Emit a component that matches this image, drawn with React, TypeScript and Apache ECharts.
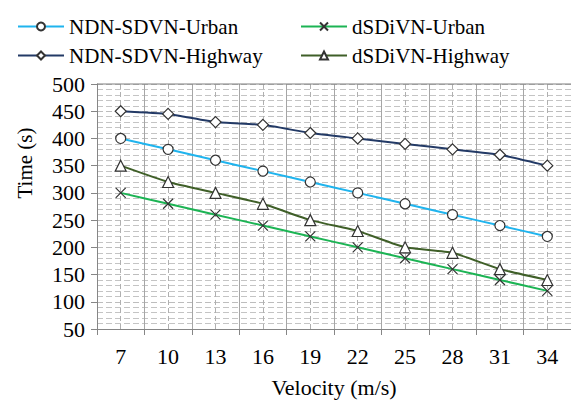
import React, { useEffect, useRef } from "react";
import * as echarts from "echarts";

const velocities = ["7", "10", "13", "16", "19", "22", "25", "28", "31", "34"];
const ndnUrban = [400, 380, 360, 340, 320, 300, 280, 260, 240, 220];
const dsdiUrban = [300, 280, 260, 240, 220, 200, 180, 160, 140, 120];
const ndnHighway = [450, 445, 430, 425, 410, 400, 390, 380, 370, 350];
const dsdiHighway = [350, 320, 300, 280, 250, 230, 200, 190, 160, 140];

const FONT = "Liberation Serif";
const CROSS = "path://M0,0L10,10M0,10L10,0";

function makeSeries(name: string, data: number[], color: string, symbol: string, size: number) {
  return {
    name,
    type: "line",
    data,
    xAxisIndex: 0,
    yAxisIndex: 0,
    smooth: 0.15,
    color,
    symbol,
    symbolSize: size,
    lineStyle: { color, width: 2 },
    itemStyle: {
      color: symbol === CROSS ? "transparent" : "#ffffff",
      borderColor: "#333333",
      borderWidth: 1.2,
    },
    emphasis: { disabled: true },
  };
}

export default function App() {
  const ref = useRef<HTMLDivElement>(null);

  useEffect(() => {
    if (!ref.current) return;
    const chart = echarts.init(ref.current, null, { renderer: "svg" });
    const legendText = { fontFamily: FONT, fontSize: 21, color: "#000" };
    chart.setOption({
      animation: false,
      backgroundColor: "#ffffff",
      grid: { left: 97, right: -3, top: 84, bottom: 75, containLabel: false },
      legend: [
        {
          orient: "vertical",
          left: 12,
          top: 11,
          itemGap: 8,
          itemWidth: 46,
          itemHeight: 10,
          textStyle: legendText,
          data: ["NDN-SDVN-Urban", "NDN-SDVN-Highway"],
        },
        {
          orient: "vertical",
          left: 295,
          top: 11,
          itemGap: 8,
          itemWidth: 46,
          itemHeight: 10,
          textStyle: legendText,
          data: ["dSDiVN-Urban", "dSDiVN-Highway"],
        },
      ],
      xAxis: [
        {
          type: "category",
          data: velocities,
          boundaryGap: true,
          axisLine: { lineStyle: { color: "#868686", width: 1 } },
          axisTick: { show: true, length: 6, lineStyle: { color: "#868686" } },
          axisLabel: { fontFamily: FONT, fontSize: 22, color: "#000", margin: 16 },
          splitLine: { show: false },
          name: "Velocity (m/s)",
          nameLocation: "middle",
          nameGap: 47,
          nameTextStyle: { fontFamily: FONT, fontSize: 22, color: "#000" },
        },
        {
          // helper axis: solid lines at category edges, dashed lines at category centres
          type: "value",
          position: "bottom",
          min: 0,
          max: 10,
          interval: 1,
          show: true,
          axisLine: { show: false },
          axisTick: { show: false },
          axisLabel: { show: false },
          splitLine: { show: true, lineStyle: { color: "#a6a6a6", width: 1 } },
          minorTick: { show: false, splitNumber: 2 },
          minorSplitLine: { show: true, lineStyle: { color: "#b0b0b0", type: [5, 3], width: 1 } },
        },
      ],
      yAxis: {
        type: "value",
        min: 50,
        max: 500,
        interval: 50,
        axisLine: { show: true, lineStyle: { color: "#868686", width: 1 } },
        axisTick: { show: true, length: 6, lineStyle: { color: "#868686" } },
        axisLabel: { fontFamily: FONT, fontSize: 22, color: "#000", margin: 12 },
        splitLine: { show: true, lineStyle: { color: "#bdbdbd", type: [6, 3], width: 1 } },
        minorTick: { show: false, splitNumber: 5 },
        minorSplitLine: { show: true, lineStyle: { color: "#c4c4c4", type: [6, 3], width: 1 } },
      },
      graphic: [
        {
          type: "line",
          shape: { x1: 97, y1: 84, x2: 571, y2: 84 },
          style: { stroke: "#7f7f7f", lineWidth: 1 },
          z: 5,
        },
        {
          type: "text",
          x: 25,
          y: 163,
          rotation: Math.PI / 2,
          style: {
            text: "Time (s)",
            fontFamily: FONT,
            fontSize: 21,
            fill: "#000",
            align: "center",
            verticalAlign: "middle",
          },
        },
      ],
      series: [
        makeSeries("NDN-SDVN-Urban", ndnUrban, "#1fb4ee", "circle", 10),
        makeSeries("NDN-SDVN-Highway", ndnHighway, "#233a66", "diamond", 11),
        makeSeries("dSDiVN-Urban", dsdiUrban, "#1cb454", CROSS, 10),
        makeSeries("dSDiVN-Highway", dsdiHighway, "#3f5f28", "triangle", 11),
      ],
    });
    return () => chart.dispose();
  }, []);

  return (
    <div
      ref={ref}
      style={{ position: "fixed", left: 0, top: 0, width: 571, height: 404 }}
    />
  );
}
